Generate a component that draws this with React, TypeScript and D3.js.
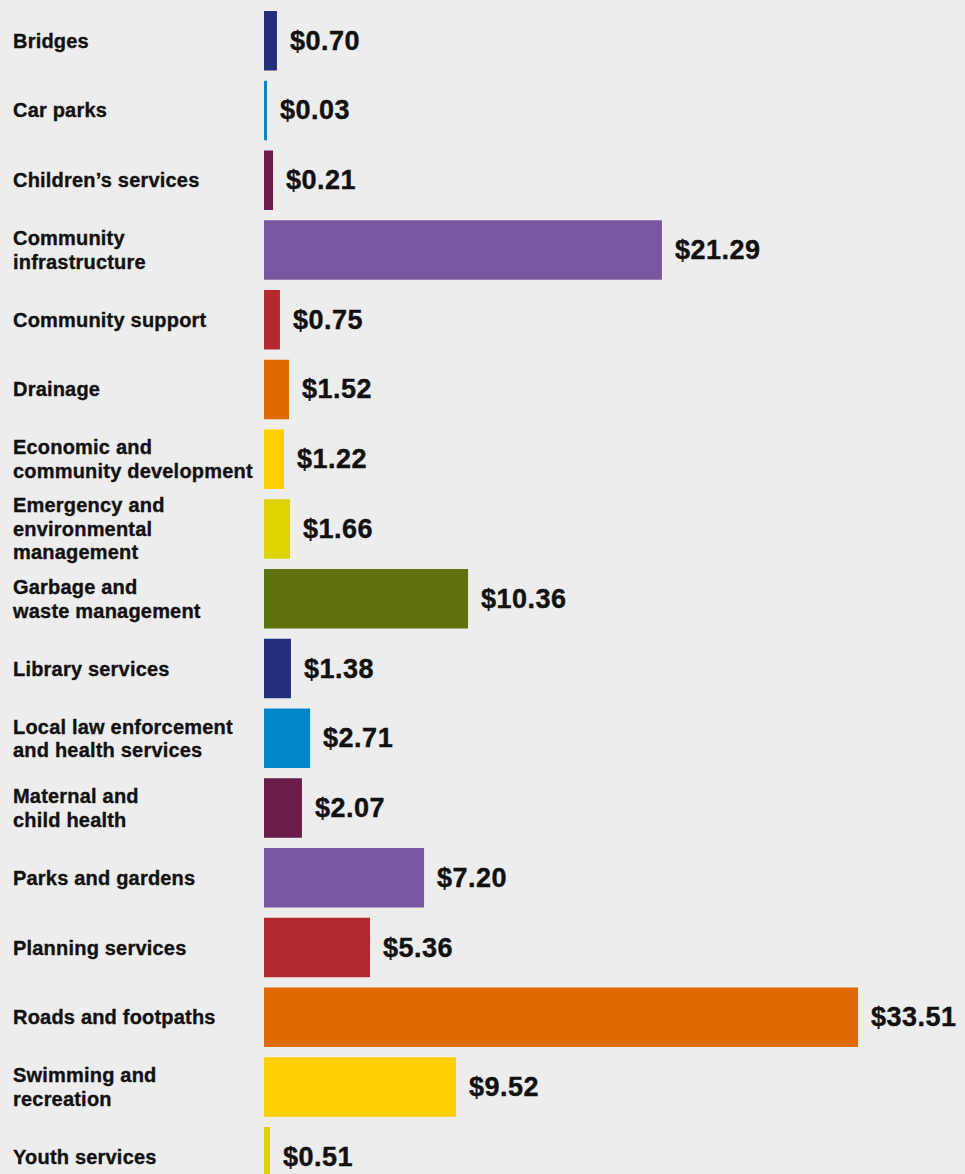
import React from "react";
import * as d3 from "d3";

const categories = [
  "Bridges",
  "Car parks",
  "Children’s services",
  "Community|infrastructure",
  "Community support",
  "Drainage",
  "Economic and|community development",
  "Emergency and|environmental|management",
  "Garbage and|waste management",
  "Library services",
  "Local law enforcement|and health services",
  "Maternal and|child health",
  "Parks and gardens",
  "Planning services",
  "Roads and footpaths",
  "Swimming and|recreation",
  "Youth services",
];

// value labels printed on the chart ($)
const values = [0.7, 0.03, 0.21, 21.29, 0.75, 1.52, 1.22, 1.66, 10.36, 1.38, 2.71, 2.07, 7.2, 5.36, 33.51, 9.52, 0.51];

// bar lengths as drawn in the picture (in $ units, same scale as the largest bar)
const barLengths = [0.73, 0.17, 0.51, 22.45, 0.9, 1.41, 1.13, 1.47, 11.51, 1.52, 2.6, 2.14, 9.03, 5.98, 33.51, 10.83, 0.34];

const palette = ["#252e7b", "#0086c9", "#6a1d47", "#7a55a0", "#b22a30", "#e06a00", "#fed000", "#ddd300", "#5e730d"];

const W = 965;
const H = 1174;

export default function App() {
  const x = d3.scaleLinear().domain([0, 33.51]).range([264, 858]);
  const y = d3
    .scaleBand<string>()
    .domain(categories)
    .range([11, 1186.5])
    .paddingInner(0.147)
    .paddingOuter(0);
  const color = d3.scaleOrdinal<number, string>().domain(d3.range(palette.length)).range(palette);
  const font = "'Liberation Sans', Arial, sans-serif";
  const lineH = 23.5;

  return (
    <svg
      width={W}
      height={H}
      style={{ position: "absolute", left: 0, top: 0, background: "#ededed" }}
    >
      <rect x={0} y={0} width={W} height={H} fill="#ededed" />
      {categories.map((c, i) => {
        const y0 = y(c)!;
        const bw = y.bandwidth();
        const cy = y0 + bw / 2;
        const lines = c.split("|");
        const firstBase = cy + 7 - ((lines.length - 1) * lineH) / 2;
        return (
          <g key={c}>
            <rect
              x={x(0)}
              y={y0}
              width={x(barLengths[i]) - x(0)}
              height={bw}
              fill={color(i % palette.length)}
            />
            <text
              fontFamily={font}
              fontWeight="bold"
              fontSize={20}
              letterSpacing={0.2}
              fill="#111"
              stroke="#111"
              strokeWidth={0.35}
            >
              {lines.map((l, k) => (
                <tspan key={k} x={13} y={firstBase + k * lineH}>
                  {l}
                </tspan>
              ))}
            </text>
            <text
              x={x(barLengths[i]) + 13}
              y={cy + 9}
              fontFamily={font}
              fontWeight="bold"
              fontSize={27}
              letterSpacing={0.5}
              fill="#111"
              stroke="#111"
              strokeWidth={0.4}
            >
              {d3.format("$.2f")(values[i])}
            </text>
          </g>
        );
      })}
    </svg>
  );
}
